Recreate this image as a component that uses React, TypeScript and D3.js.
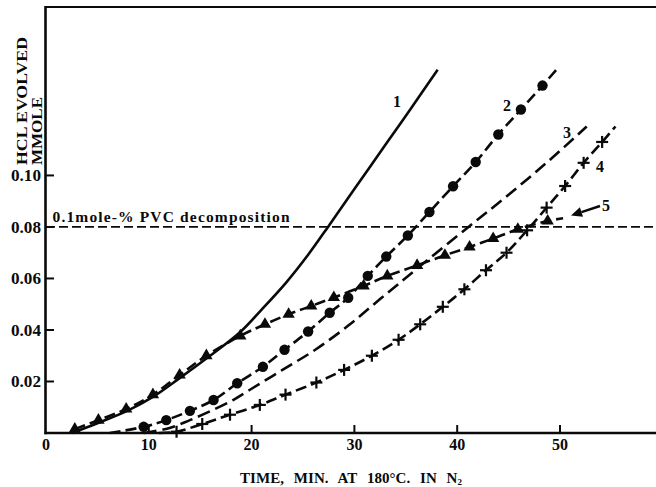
import React from "react";
import * as d3 from "d3";

// Axis ticks
const xTicks = [10, 20, 30, 40, 50];
const xTickLabels = ["10", "20", "30", "40", "50"];
const yTicks = [0.02, 0.04, 0.06, 0.08, 0.1];
const yTickLabels = ["0.02", "0.04", "0.06", "0.08", "0.10"];

// Curve 1: solid, no markers
const c1X = [2.5, 5, 8, 10.4, 13, 15.6, 18.9, 21, 23.4, 25.5, 27.6, 30, 33, 35.5, 38.1];
const c1Y = [0, 0.0038, 0.0088, 0.014, 0.0213, 0.0289, 0.0392, 0.048, 0.0586, 0.0692, 0.081, 0.0947, 0.1118, 0.126, 0.141];

// Curve 2: dashed, filled circles
const c2X = [9.5, 11.7, 14.0, 16.3, 18.6, 21.1, 23.2, 25.5, 27.6, 29.4, 31.3, 33.1, 35.2, 37.3, 39.6, 41.8, 44.0, 46.2, 48.3];
const c2Y = [0.0024, 0.005, 0.0086, 0.0128, 0.0193, 0.0257, 0.0323, 0.0394, 0.0467, 0.0525, 0.061, 0.0685, 0.0767, 0.0858, 0.0958, 0.1052, 0.1159, 0.1256, 0.1349];
const c2Start = [6.2, 0];
const c2End = [49.8, 0.1417];

// Curve 3: dashed, no markers
const c3X = [9.5, 12.1, 14, 16, 18.2, 19.8, 23, 26.3, 29.5, 32.5, 36, 41.1, 45, 49, 52.6];
const c3Y = [0, 0.002, 0.005, 0.0085, 0.0128, 0.0167, 0.0245, 0.0326, 0.042, 0.052, 0.0635, 0.08, 0.0925, 0.106, 0.119];

// Curve 4: dashed, plus markers
const c4X = [12.7, 15.2, 17.9, 20.8, 23.3, 26.3, 29.0, 31.7, 34.3, 36.4, 38.6, 40.7, 42.8, 44.8, 46.8, 48.7, 50.5, 52.3, 54.1];
const c4Y = [0.0005, 0.0035, 0.0071, 0.0109, 0.0149, 0.0196, 0.0245, 0.03, 0.0362, 0.0422, 0.049, 0.0558, 0.0632, 0.07, 0.0787, 0.0875, 0.0959, 0.1049, 0.113];
const c4Start = [11, 0];
const c4End = [55.4, 0.119];

// Curve 5: dashed, filled triangles
const c5X = [2.8, 5.1, 7.8, 10.4, 13.0, 15.6, 18.9, 21.3, 23.6, 25.8, 28.0, 30.9, 33.2, 36.1, 38.8, 41.2, 43.5, 45.9, 48.8];
const c5Y = [0.0015, 0.005, 0.0093, 0.0149, 0.0225, 0.03, 0.0377, 0.0422, 0.0461, 0.0493, 0.0526, 0.0571, 0.061, 0.0651, 0.069, 0.0722, 0.0755, 0.0791, 0.0823];
const c5End = [50.3, 0.0834];

const thresholdValue = 0.08;
const thresholdLabel = "0.1mole-% PVC decomposition";

const W = 656;
const H = 487;
const M = { left: 46, top: 7, right: 0, bottom: 54 };

const x = d3.scaleLinear().domain([0, 59.34]).range([M.left, W - M.right]);
const y = d3.scaleLinear().domain([0, 0.1654]).range([H - M.bottom, M.top]);

const zip = (xs: number[], ys: number[]) => xs.map((v, i) => [v, ys[i]] as [number, number]);

const line = d3
  .line<[number, number]>()
  .x((d) => x(d[0]))
  .y((d) => y(d[1]))
  .curve(d3.curveCatmullRom.alpha(0.5));

const FONT = "'Liberation Serif', 'DejaVu Serif', serif";
const INK = "#0a0a0a";

const triangle = d3.symbol().type(d3.symbolTriangle).size(66)() as string;

export default function App() {
  const p1 = zip(c1X, c1Y);
  const p2 = [c2Start as [number, number], ...zip(c2X, c2Y), c2End as [number, number]];
  const p3 = zip(c3X, c3Y);
  const p4 = [c4Start as [number, number], ...zip(c4X, c4Y), c4End as [number, number]];
  const p5 = [...zip(c5X, c5Y), c5End as [number, number]];

  const y0 = y(0);
  const x0 = x(0);

  // arrow pointing from the label "5" to its curve
  const arrowFrom = [600, 206];
  const arrowTip = [571, 215.5];
  const ang = Math.atan2(arrowTip[1] - arrowFrom[1], arrowTip[0] - arrowFrom[0]);
  const ah = 11;
  const aw = 5;
  const base = [arrowTip[0] - ah * Math.cos(ang), arrowTip[1] - ah * Math.sin(ang)];
  const arrowHead = `M${arrowTip[0]},${arrowTip[1]} L${base[0] + aw * Math.sin(ang)},${base[1] - aw * Math.cos(ang)} L${base[0] - aw * Math.sin(ang)},${base[1] + aw * Math.cos(ang)} Z`;

  return (
    <svg
      width={W}
      height={H}
      style={{ position: "absolute", left: 0, top: 0, background: "#fff" }}
      fontFamily={FONT}
      fontWeight="bold"
    >
      <rect x={0} y={0} width={W} height={H} fill="#fff" />

      {/* frame */}
      <line x1={x0} x2={W} y1={M.top} y2={M.top} stroke={INK} strokeWidth={2.2} />
      <line x1={x0 - 0.5} x2={x0 - 0.5} y1={M.top - 1} y2={y0 + 1.2} stroke={INK} strokeWidth={2.6} />
      <line x1={x0 - 1.5} x2={W} y1={y0} y2={y0} stroke={INK} strokeWidth={2.6} />

      {/* y ticks */}
      {yTicks.map((t, i) => (
        <g key={"yt" + i}>
          <line x1={x0} x2={x0 + 8} y1={y(t)} y2={y(t)} stroke={INK} strokeWidth={2} />
          <text x={41} y={y(t) + 6} textAnchor="end" fontSize={16} fill={INK} textLength={30} lengthAdjust="spacingAndGlyphs">
            {yTickLabels[i]}
          </text>
        </g>
      ))}

      {/* x ticks */}
      {xTicks.map((t, i) => (
        <g key={"xt" + i}>
          <line x1={x(t)} x2={x(t)} y1={y0} y2={y0 - 8} stroke={INK} strokeWidth={2} />
          <text x={x(t)} y={450} textAnchor="middle" fontSize={16} fill={INK}>
            {xTickLabels[i]}
          </text>
        </g>
      ))}
      <text x={x0} y={450} textAnchor="middle" fontSize={16} fill={INK}>
        0
      </text>

      {/* axis titles */}
      <text transform="translate(26.5,165) rotate(-90)" fontSize={15} fill={INK} textLength={128} lengthAdjust="spacingAndGlyphs">
        HCL EVOLVED
      </text>
      <text transform="translate(41.5,165) rotate(-90)" fontSize={15} fill={INK} textLength={68} lengthAdjust="spacingAndGlyphs">
        MMOLE
      </text>
      <text x={240} y={483} fontSize={15} fill={INK} textLength={222} lengthAdjust="spacing" wordSpacing={6}>
        TIME,  MIN.  AT  180°C.  IN  N<tspan fontSize={9} dy={2}>2</tspan>
      </text>

      {/* threshold */}
      <line
        x1={x0}
        x2={W}
        y1={y(thresholdValue)}
        y2={y(thresholdValue)}
        stroke={INK}
        strokeWidth={1.7}
        strokeDasharray="9 4"
      />
      <text x={52.5} y={222} fontSize={15.5} fill={INK} textLength={237} lengthAdjust="spacing">
        {thresholdLabel}
      </text>

      {/* curves */}
      <path d={line(p1) as string} fill="none" stroke={INK} strokeWidth={2.6} />
      <path d={line(p2) as string} fill="none" stroke={INK} strokeWidth={2.6} strokeDasharray="11 5" />
      <path d={line(p3) as string} fill="none" stroke={INK} strokeWidth={2.6} strokeDasharray="13 6" />
      <path d={line(p4) as string} fill="none" stroke={INK} strokeWidth={2.6} strokeDasharray="11 5" />
      <path d={line(p5) as string} fill="none" stroke={INK} strokeWidth={2.6} strokeDasharray="11 5" />

      {/* markers */}
      {zip(c2X, c2Y).map((d, i) => (
        <circle key={"c2" + i} cx={x(d[0])} cy={y(d[1])} r={5.2} fill={INK} />
      ))}
      {zip(c4X, c4Y).map((d, i) => (
        <g key={"c4" + i} stroke={INK} strokeWidth={2.2}>
          <line x1={x(d[0]) - 6} x2={x(d[0]) + 6} y1={y(d[1])} y2={y(d[1])} />
          <line x1={x(d[0])} x2={x(d[0])} y1={y(d[1]) - 6} y2={y(d[1]) + 6} />
        </g>
      ))}
      {zip(c5X, c5Y).map((d, i) => (
        <path key={"c5" + i} d={triangle} transform={`translate(${x(d[0])},${y(d[1])})`} fill={INK} />
      ))}

      {/* curve labels */}
      <text x={397} y={107} textAnchor="middle" fontSize={16} fill={INK}>1</text>
      <text x={507} y={111} textAnchor="middle" fontSize={16} fill={INK}>2</text>
      <text x={567} y={138} textAnchor="middle" fontSize={16} fill={INK}>3</text>
      <text x={600} y={172} textAnchor="middle" fontSize={16} fill={INK}>4</text>
      <text x={606} y={211} textAnchor="middle" fontSize={16} fill={INK}>5</text>
      <line x1={arrowFrom[0]} y1={arrowFrom[1]} x2={base[0]} y2={base[1]} stroke={INK} strokeWidth={2.4} />
      <path d={arrowHead} fill={INK} />
    </svg>
  );
}
